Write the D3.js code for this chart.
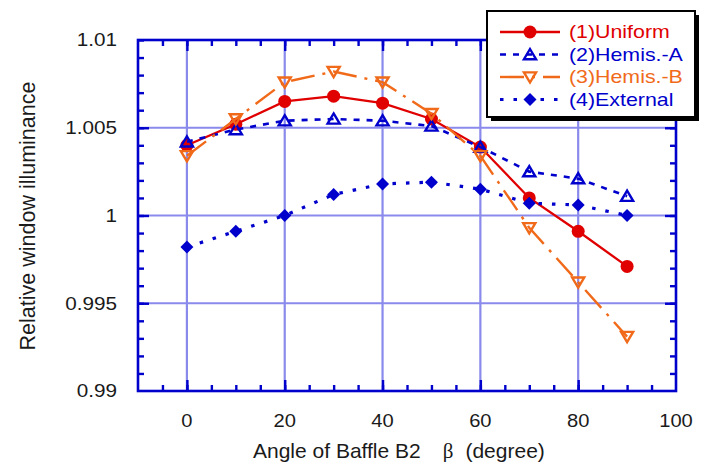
<!DOCTYPE html>
<html>
<head>
<meta charset="utf-8">
<script src="https://cdn.jsdelivr.net/npm/d3@7"></script>
<style>
  body { margin: 0; background: #fff; }
  svg text { font-family: "Liberation Sans", Arial, sans-serif; }
</style>
</head>
<body>
<svg id="chart" width="706" height="462"></svg>
<script>
// data
const angles = [0, 10, 20, 30, 40, 50, 60, 70, 80, 90]
const uniform = [1.0040, 1.0052, 1.0065, 1.0068, 1.0064, 1.0055, 1.0039, 1.0010, 0.9991, 0.9971]
const hemisA = [1.0042, 1.0049, 1.0054, 1.0055, 1.0054, 1.0051, 1.0039, 1.0025, 1.0021, 1.0011]
const hemisB = [1.0034, 1.0055, 1.0076, 1.0082, 1.0076, 1.0058, 1.0034, 0.9993, 0.9962, 0.9931]
const external = [0.9982, 0.9991, 1.0000, 1.0012, 1.0018, 1.0019, 1.0015, 1.0007, 1.0006, 1.0000]

const seriesNames = ["(1)Uniform", "(2)Hemis.-A", "(3)Hemis.-B", "(4)External"]
const xTickValues = [0, 20, 40, 60, 80, 100]
const xTickLabels = ["0", "20", "40", "60", "80", "100"]
const yTickValues = [0.99, 0.995, 1, 1.005, 1.01]
const yTickLabels = ["0.99", "0.995", "1", "1.005", "1.01"]

const frameBlue = "#0000cc"
const gridBlue = "#8a8aec"
const textColor = "#1a1a1a"

let svg = d3.select("#chart")
let x = d3.scaleLinear().domain([-10, 100]).range([138, 676])
let y = d3.scaleLinear().domain([0.99, 1.01]).range([391, 40])

// grid
let grid = svg.append("g")
grid.selectAll("line.gx")
    .data([0, 20, 40, 60, 80])
    .enter()
    .append("line")
    .attr("x1", d => x(d)).attr("x2", d => x(d))
    .attr("y1", y(1.01)).attr("y2", y(0.99))
    .attr("stroke", gridBlue).attr("stroke-width", 2.2)
grid.selectAll("line.gy")
    .data([0.995, 1, 1.005])
    .enter()
    .append("line")
    .attr("x1", x(-10)).attr("x2", x(100))
    .attr("y1", d => y(d)).attr("y2", d => y(d))
    .attr("stroke", gridBlue).attr("stroke-width", 2.2)

// inward ticks on all four sides
function tickAxis(axisFn, scale, values, size, transform) {
    let g = svg.append("g")
        .attr("transform", transform)
        .call(axisFn(scale).tickValues(values).tickSize(-size).tickFormat(""))
    g.select(".domain").remove()
    g.selectAll("line").attr("stroke", frameBlue).attr("stroke-width", 2.4)
}
let xMinor = d3.range(-5, 100, 5)
let yMinor = d3.range(0, 20).map(i => 0.99 + i * 0.001 + 0.001)
let xMajor = [0, 20, 40, 60, 80]
let yMajor = [0.995, 1, 1.005]
tickAxis(d3.axisBottom, x, xMinor, 6, `translate(0,${y(0.99)})`)
tickAxis(d3.axisBottom, x, xMajor, 11, `translate(0,${y(0.99)})`)
tickAxis(d3.axisTop, x, xMinor, 6, `translate(0,${y(1.01)})`)
tickAxis(d3.axisTop, x, xMajor, 11, `translate(0,${y(1.01)})`)
tickAxis(d3.axisLeft, y, yMinor, 6, `translate(${x(-10)},0)`)
tickAxis(d3.axisLeft, y, yMajor, 11, `translate(${x(-10)},0)`)
tickAxis(d3.axisRight, y, yMinor, 6, `translate(${x(100)},0)`)
tickAxis(d3.axisRight, y, yMajor, 11, `translate(${x(100)},0)`)

// frame
svg.append("rect")
    .attr("x", x(-10)).attr("y", y(1.01))
    .attr("width", x(100) - x(-10)).attr("height", y(0.99) - y(1.01))
    .attr("fill", "none").attr("stroke", frameBlue).attr("stroke-width", 2.6)

// tick labels
svg.append("g").selectAll("g")
    .data(xTickValues)
    .enter()
    .append("g")
    .attr("transform", d => `translate(${x(d)},427)`)
    .append("text")
    .attr("text-anchor", "middle")
    .attr("transform", "scale(1.12,1)")
    .attr("font-size", 18)
    .attr("fill", textColor)
    .text((d, i) => xTickLabels[i])

svg.append("g").selectAll("g")
    .data(yTickValues)
    .enter()
    .append("g")
    .attr("transform", d => `translate(117,${y(d)})`)
    .append("text")
    .attr("text-anchor", "end")
    .attr("dy", "0.36em")
    .attr("transform", "scale(1.15,1)")
    .attr("font-size", 18)
    .attr("fill", textColor)
    .text((d, i) => yTickLabels[i])

// axis titles
let xt = svg.append("text")
    .attr("x", 253).attr("y", 458)
    .attr("font-size", 21)
    .attr("fill", textColor)
xt.append("tspan").text("Angle of Baffle B2")
xt.append("tspan").attr("dx", 22).style("font-family", "'Liberation Serif', serif").text("β")
xt.append("tspan").attr("dx", 12).text("(degree)")

svg.append("text")
    .attr("transform", "translate(35,216) rotate(-90)")
    .attr("text-anchor", "middle")
    .attr("font-size", 21.5)
    .attr("fill", textColor)
    .text("Relative window illuminance")

// markers
function triUp(s) { return `M0,${-s}L${s * 1.1},${s * 0.85}L${-s * 1.1},${s * 0.85}Z` }
function triDown(s) { return `M0,${s}L${s * 1.1},${-s * 0.85}L${-s * 1.1},${-s * 0.85}Z` }
function diamond(s) { return `M0,${-s}L${s},0L0,${s}L${-s},0Z` }

let series = [
    { name: seriesNames[0], values: uniform, color: "#e00000", dash: null, width: 2.3,
      marker: g => g.append("circle").attr("r", 6.5).attr("fill", "#e00000") },
    { name: seriesNames[1], values: hemisA, color: "#0000cc", dash: "6,7", width: 2.6,
      marker: g => g.append("path").attr("d", triUp(5.5)).attr("fill", "none").attr("stroke", "#0000cc").attr("stroke-width", 2.4) },
    { name: seriesNames[2], values: hemisB, color: "#f06a1a", dash: "24,8,3,8", width: 2.4,
      marker: g => g.append("path").attr("d", triDown(5.5)).attr("fill", "none").attr("stroke", "#f06a1a").attr("stroke-width", 2.4) },
    { name: seriesNames[3], values: external, color: "#0000cc", dash: "3.5,10", width: 3.2,
      marker: g => g.append("path").attr("d", diamond(6.5)).attr("fill", "#0000cc") },
]

let lineGen = d3.line().x(d => x(d[0])).y(d => y(d[1]))

series.forEach(s => {
    let pts = angles.map((a, i) => [a, s.values[i]])
    svg.append("path")
        .attr("d", lineGen(pts))
        .attr("fill", "none")
        .attr("stroke", s.color)
        .attr("stroke-width", s.width)
        .attr("stroke-dasharray", s.dash)
    svg.append("g").selectAll("g")
        .data(pts)
        .enter()
        .append("g")
        .attr("transform", d => `translate(${x(d[0])},${y(d[1])})`)
        .each(function () { s.marker(d3.select(this)) })
})

// legend
let legend = svg.append("g").attr("transform", "translate(487,11)")
legend.append("rect")
    .attr("x", 4).attr("y", 4).attr("width", 208).attr("height", 106)
    .attr("fill", "#000")
legend.append("rect")
    .attr("width", 208).attr("height", 106)
    .attr("fill", "#fff").attr("stroke", "#000").attr("stroke-width", 2)

series.forEach((s, i) => {
    let row = legend.append("g").attr("transform", `translate(0,${21 + i * 22.5})`)
    row.append("line")
        .attr("x1", 13).attr("x2", 73)
        .attr("stroke", s.color)
        .attr("stroke-width", s.width)
        .attr("stroke-dasharray", s.dash)
    s.marker(row.append("g").attr("transform", "translate(43,0)"))
    row.append("g").attr("transform", "translate(82,0)")
        .append("text")
        .attr("dy", "0.36em")
        .attr("transform", "scale(1.22,1)")
        .attr("font-size", 17.5)
        .attr("fill", s.color)
        .text(s.name)
})
</script>
</body>
</html>
